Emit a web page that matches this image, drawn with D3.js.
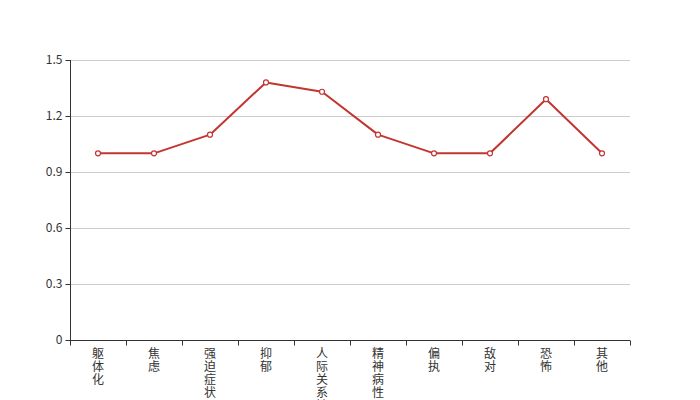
<!DOCTYPE html>
<html><head><meta charset="utf-8">
<script src="https://cdn.jsdelivr.net/npm/d3@7"></script>
<style>body{margin:0;background:#fff}svg{display:block}</style>
</head><body>
<svg id="c" width="700" height="400"></svg>
<script>
const categories = ["躯体化","焦虑","强迫症状","抑郁","人际关系敏感","精神病性","偏执","敌对","恐怖","其他"];
const values = [1.0, 1.0, 1.1, 1.38, 1.33, 1.1, 1.0, 1.0, 1.29, 1.0];
const yTicks = [0, 0.3, 0.6, 0.9, 1.2, 1.5];

(function() {
const svg = d3.select("#c");
const mLeft = 70, mRight = 630, mTop = 60, mBottom = 340;
const font = "'Noto Sans CJK SC', 'Microsoft YaHei', sans-serif";

const x = d3.scaleBand().domain(categories).range([mLeft, mRight]);
const y = d3.scaleLinear().domain([0, 1.5]).range([mBottom, mTop]);

// grid
svg.append("g").selectAll("line").data(yTicks.filter(d => d > 0)).join("line")
  .attr("x1", mLeft).attr("x2", mRight)
  .attr("y1", d => y(d) + 0.5).attr("y2", d => y(d) + 0.5)
  .attr("stroke", "#ccc").attr("stroke-width", 1);

// y axis
const yAxis = svg.append("g").attr("transform", `translate(${mLeft + 0.5},0)`)
  .call(d3.axisLeft(y).tickValues(yTicks).tickSize(5).tickPadding(3).tickFormat(d => d === 0 ? "0" : d3.format(".1f")(d)));
yAxis.select(".domain").attr("stroke", "#333").attr("d", `M0,${mTop}V${mBottom}`);
yAxis.selectAll(".tick line").attr("stroke", "#333");
yAxis.selectAll(".tick text").attr("fill", "#333").style("font-family", font).style("font-size", "12px");

// x axis
const xAxis = svg.append("g").attr("transform", `translate(0,${mBottom + 0.5})`);
xAxis.append("line").attr("x1", mLeft).attr("x2", mRight).attr("stroke", "#333");
const bounds = categories.map(c => x(c)).concat([mRight]);
xAxis.selectAll("line.tk").data(bounds).join("line").attr("class", "tk")
  .attr("x1", d => Math.round(d) + 0.5).attr("x2", d => Math.round(d) + 0.5)
  .attr("y1", 0).attr("y2", 5).attr("stroke", "#333");
const lbl = xAxis.selectAll("text").data(categories).join("text")
  .attr("x", d => x(d) + x.bandwidth() / 2)
  .attr("y", 0)
  .attr("text-anchor", "middle")
  .attr("fill", "#333")
  .style("font-family", font).style("font-size", "12px");
lbl.selectAll("tspan").data(d => Array.from(d)).join("tspan")
  .attr("x", function() { return d3.select(this.parentNode).attr("x"); })
  .attr("y", (d, i) => 17 + i * 13)
  .text(d => d);

// line
const line = d3.line().x((d, i) => x(categories[i]) + x.bandwidth() / 2).y(d => y(d));
svg.append("path").datum(values).attr("d", line)
  .attr("fill", "none").attr("stroke", "#c23531").attr("stroke-width", 2).attr("stroke-linejoin", "bevel");
svg.append("g").selectAll("circle").data(values).join("circle")
  .attr("cx", (d, i) => x(categories[i]) + x.bandwidth() / 2)
  .attr("cy", d => y(d)).attr("r", 2.5)
  .attr("fill", "#fff").attr("stroke", "#c23531").attr("stroke-width", 1.2);
})();
</script>
</body></html>
